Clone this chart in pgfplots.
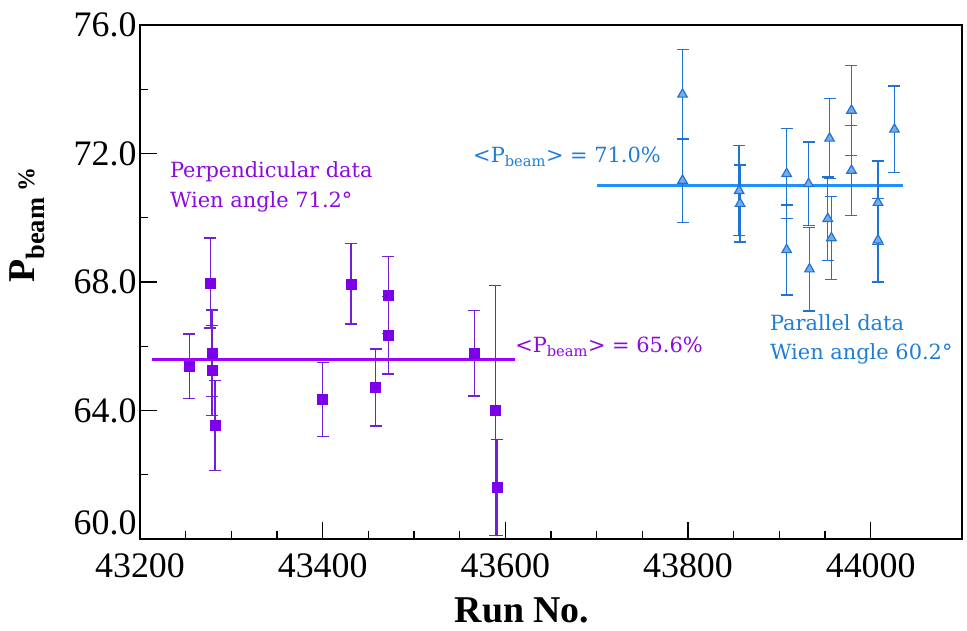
\documentclass[border=0pt]{standalone}
\usepackage{fontspec}
\setmainfont{Liberation Serif}
\newfontfamily\dv{DejaVu Serif}
\usepackage{pgfplots}
\usepackage{pgfplotstable}
\pgfplotsset{compat=1.18}
\definecolor{purp}{RGB}{160,0,255}
\definecolor{purpdark}{RGB}{115,30,215}
\definecolor{purpmark}{RGB}{125,0,235}
\definecolor{purptext}{RGB}{140,10,225}
\definecolor{blu}{RGB}{30,144,255}
\definecolor{bludark}{RGB}{30,115,215}
\definecolor{blutext}{RGB}{30,125,215}

\pgfplotstableread{
x y e
43254 65.38 1.00
43277 67.97 1.40
43279 65.78 1.35
43279 65.25 1.40
43282 63.53 1.40
43400 64.34 1.15
43431 67.94 1.25
43458 64.72 1.20
43472 67.60 1.20
43472 66.34 1.20
43566 65.78 1.33
43589 64.00 3.90
43591 61.60 1.50
}\perp

\pgfplotstableread{
x y e
43794 73.84 1.40
43794 71.16 1.30
43856 70.84 1.40
43857 70.44 1.20
43908 71.37 1.40
43908 69.00 1.40
43932 71.06 1.30
43933 68.40 1.30
43955 72.47 1.25
43953 69.97 1.30
43957 69.37 1.30
43979 73.34 1.40
43979 71.47 1.40
44008 70.47 1.30
44008 69.30 1.30
44026 72.75 1.35
}\para

\begin{document}
\begin{tikzpicture}[x=1bp,y=1bp]
\path[use as bounding box] (0,0) rectangle (967,631);
\begin{axis}[
  at={(140bp,92bp)}, anchor=south west,
  scale only axis, width=822bp, height=514bp,
  xmin=43200, xmax=44100, ymin=60, ymax=76,
  xtick={43200,43400,43600,43800,44000}, minor x tick num=3,
  ytick={60,64,68,72,76}, minor y tick num=1,
  yticklabels={\smash{\raisebox{4bp}{60.0}},64.0,68.0,72.0,76.0},
  scaled x ticks=false, scaled y ticks=false,
  tick align=inside, xtick pos=bottom, ytick pos=left,
  major tick length=17bp, minor tick length=8bp,
  axis line style={line width=1.3bp},
  every tick/.style={black, line width=1.1bp},
  /pgf/number format/assume math mode=true,
  x tick label style={/pgf/number format/.cd, fixed, 1000 sep={}, precision=0, /tikz/yshift=-11bp},
  tick label style={font=\fontsize{36}{40}\selectfont},
]
\addplot[purp, line width=3bp] coordinates {(43213,65.6) (43611,65.6)};
\addplot[blu, line width=3bp] coordinates {(43700,71.0) (44035,71.0)};

\addplot[only marks, mark=square*, mark size=5bp,
  mark options={fill=purpmark, draw=purpmark},
  error bars/.cd, y dir=both, y explicit,
  error bar style={purpdark, line width=1.4bp},
  error mark options={rotate=90, mark size=6bp, purpdark, line width=1.4bp}]
  table[x=x, y=y, y error=e] {\perp};

\addplot[only marks, mark=triangle*, mark size=5.5bp,
  mark options={fill=bludark!60, draw=bludark, line width=1.2bp},
  error bars/.cd, y dir=both, y explicit,
  error bar style={bludark, line width=1.4bp},
  error mark options={rotate=90, mark size=6bp, bludark, line width=1.4bp}]
  table[x=x, y=y, y error=e] {\para};

\node[anchor=west, align=left, text=purptext, font=\dv\fontsize{21}{30}\selectfont]
  at (axis cs:43229,70.95) {Perpendicular data\\Wien angle 71.2\textdegree};
\node[anchor=west, text=blutext, font=\dv\fontsize{21}{29}\selectfont]
  at (axis cs:43561,71.89) {\textless P\textsubscript{beam}\textgreater{} = 71.0\%};
\node[anchor=west, text=purptext, font=\dv\fontsize{21}{29}\selectfont]
  at (axis cs:43607,65.97) {\textless P\textsubscript{beam}\textgreater{} = 65.6\%};
\node[anchor=west, align=left, text=blutext, font=\dv\fontsize{21}{29}\selectfont]
  at (axis cs:43886,66.2) {Parallel data\\Wien angle 60.2\textdegree};
\end{axis}
\node[font=\bfseries\fontsize{38}{40}\selectfont] at (522,21) {Run No.};
\node[rotate=90, font=\bfseries\fontsize{38}{40}\selectfont] at (27,406)
  {P\textsubscript{beam}\,{\fontsize{24}{24}\selectfont\%}};
\end{tikzpicture}
\end{document}
